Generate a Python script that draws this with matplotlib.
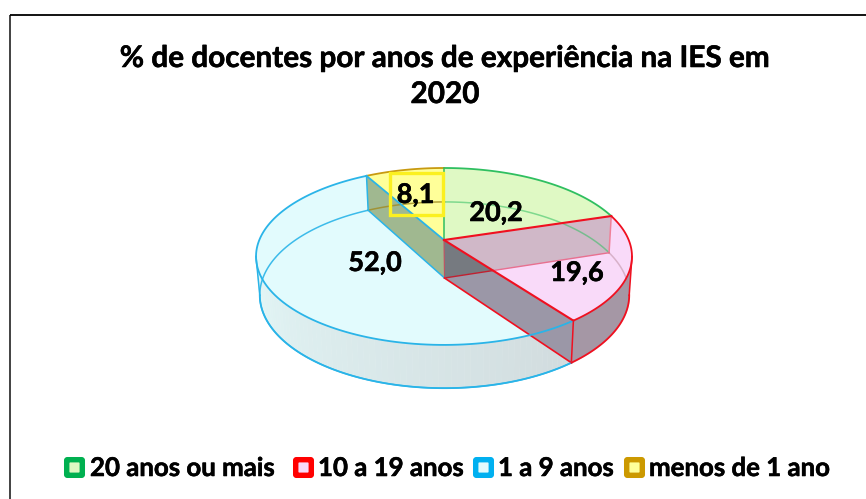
import numpy as np
import matplotlib
matplotlib.use("Agg")
import matplotlib.pyplot as plt
import matplotlib.patheffects as pe
from matplotlib.patches import Polygon, FancyBboxPatch, Rectangle

# ---- data ----
title_lines = ["% de docentes por anos de experiência na IES em", "2020"]
categories = ["20 anos ou mais", "10 a 19 anos", "1 a 9 anos", "menos de 1 ano"]
values = [20.2, 19.6, 52.0, 8.1]
value_labels = ["20,2", "19,6", "52,0", "8,1"]
top_colors = ["#DFF9C4", "#F9DAF9", "#E2FBFD", "#FFFF99"]
edge_colors = ["#2FBF60", "#F01020", "#2AB4E8", "#C89A10"]
legend_colors = ["#00B050", "#FF0000", "#00B0F0", "#CC9900"]
label_pos = [(496, 213), (577, 273), (375, 263), (415.5, 195)]
legend_box_x = [64, 293, 473, 624]
legend_text_x = [90, 318, 498, 649]

W, H = 866, 499
fig = plt.figure(figsize=(W / 100, H / 100), dpi=100, facecolor="white")
ax = fig.add_axes([0, 0, 1, 1])
ax.set_xlim(0, W)
ax.set_ylim(H, 0)
ax.axis("off")
plt.rcParams["font.family"] = ["Lato", "DejaVu Sans"]
thick = [pe.withStroke(linewidth=0.4, foreground="black")]

# perspective projection of the disc
def proj(theta, top=True):
    t = np.radians(theta)
    X, Y = np.sin(t), np.cos(t)
    if top:
        cx, cy, a, b, k = 444.0, 240.0, 184.7, 85.4, 0.186
    else:
        cx, cy, a, b, k = 444.5, 278.0, 181.6, 90.0, 0.183
    w = 1 + k * Y
    return np.column_stack([cx + a * X / w, cy - b * Y / w])

apex_top = np.array([444.0, 240.0])
apex_bot = np.array([444.5, 278.0])

cum = np.concatenate([[0], np.cumsum(values) / np.sum(values) * 360])
arc = lambda a0, a1, top=True: proj(np.linspace(a0, a1, 120), top)
P = lambda a, top=True: proj(np.array([a]), top)[0]
EXT_R, EXT_L = 100.7, 259.3  # silhouette angles of the disc

# frame (only top and left reach into the picture)
ax.plot([10, 10], [H, 15], color="#333333", lw=1.3, zorder=0, solid_capstyle="butt")
ax.plot([10, W], [15, 15], color="black", lw=1.3, zorder=0, solid_capstyle="butt")

# top faces
for i in range(4):
    pts = np.vstack([apex_top, arc(cum[i], cum[i + 1])])
    ax.add_patch(Polygon(pts, closed=True, fc=top_colors[i], ec="none", zorder=1))

# outer wall: blue, gradient
n = 70
angles = np.linspace(cum[2], EXT_L, n + 1)
for j in range(n):
    f = j / n
    col = (1 - f) * np.array([0.82, 0.86, 0.87]) + f * np.array([0.89, 0.97, 0.97])
    quad = np.vstack([arc(angles[j], angles[j + 1]), arc(angles[j + 1], angles[j], False)])
    ax.add_patch(Polygon(quad, closed=True, fc=col, ec=col, lw=0.3, zorder=2))

# outer wall: red part
wall = np.vstack([arc(EXT_R, cum[2]), arc(cum[2], EXT_R, False)])
ax.add_patch(Polygon(wall, closed=True, fc="#A597A5", ec="none", zorder=2))

# inner walls
pA, pAb = P(cum[1]), P(cum[1], False)
pB, pBb = P(cum[2]), P(cum[2], False)
pC, pCb = P(cum[3]), P(cum[3], False)
ax.add_patch(Polygon([apex_top, pC, pCb, apex_bot], closed=True, fc="#A0B890", ec="none", zorder=3))
ax.add_patch(Polygon([apex_top, pB, pBb, apex_bot], closed=True, fc="#9B97A7", ec="none", zorder=3))
ax.add_patch(Polygon([apex_top, pA, pAb, apex_bot], closed=True, fc="#D0B8C8", ec="none", zorder=4))

# overlap of the two red inner walls
d1 = pB - apex_top
d2 = pAb - apex_bot
s = np.linalg.solve(np.column_stack([d1, -d2]), apex_bot - apex_top)[0]
cross = apex_top + s * d1
ax.add_patch(Polygon([apex_top, cross, apex_bot], closed=True, fc="#767A80", ec="none", zorder=5))

# bottom rim seen through the top
rim_alpha = [0.55, 0.45, 0.9, 0.8]
rim_colors = ["#2FBF60", "#B08090", "#2AB4E8", "#A08A20"]
for i in range(4):
    xy = arc(cum[i], cum[i + 1], False)
    ax.plot(xy[:, 0], xy[:, 1], color=rim_colors[i], alpha=rim_alpha[i], lw=1.1, zorder=6)

# inner wall edges
ax.plot(*zip(pA, pAb), color="#F08098", lw=1.1, zorder=6)
ax.plot(*zip(pAb, cross), color="#E87090", lw=1.0, zorder=6)
ax.plot(*zip(cross, apex_bot), color="#C02030", lw=1.0, zorder=6)
ax.plot(*zip(pB, pBb), color="#F01020", lw=1.1, zorder=7)
ax.plot(*zip(pBb, apex_bot), color="#F01020", lw=1.2, zorder=7)
ax.plot(*zip(pC, pCb), color="#2AB4E8", lw=1.1, zorder=7)
ax.plot(*zip(pCb, apex_bot), color="#2AB4E8", lw=1.1, zorder=6)
ax.plot(*zip(apex_top, apex_bot), color="#C05060", lw=0.8, zorder=6)

# silhouette edges
ax.plot(*zip(P(EXT_L), P(EXT_L, False)), color="#2AB4E8", lw=1.1, zorder=7)
ax.plot(*zip(P(EXT_R), P(EXT_R, False)), color="#F01020", lw=1.1, zorder=7)

# top outlines
for i in [0, 3, 2, 1]:
    xy = arc(cum[i], cum[i + 1])
    ax.plot(xy[:, 0], xy[:, 1], color=edge_colors[i], lw=1.3, zorder=8)
ax.plot(*zip(apex_top, P(0)), color=edge_colors[0], lw=1.1, zorder=8)
ax.plot(*zip(apex_top, pC), color=edge_colors[2], lw=1.3, zorder=8)
ax.plot(*zip(apex_top, pB), color=edge_colors[1], lw=1.5, zorder=8)
ax.plot(*zip(apex_top, pA), color=edge_colors[1], lw=1.5, zorder=8)
xy = arc(cum[2], EXT_L, False)
ax.plot(xy[:, 0], xy[:, 1], color=edge_colors[2], lw=1.3, zorder=8)
xy = arc(EXT_R, cum[2], False)
ax.plot(xy[:, 0], xy[:, 1], color=edge_colors[1], lw=1.3, zorder=8)

# titles
ax.text(445, 58, title_lines[0], ha="center", va="center", fontsize=21.4, fontweight="bold",
        color="black", zorder=10, path_effects=thick)
ax.text(445, 94, title_lines[1], ha="center", va="center", fontsize=21.4, fontweight="bold",
        color="black", zorder=10, path_effects=thick)

# value labels
for (x, y), s_ in zip(label_pos, value_labels):
    ax.text(x, y, s_, ha="center", va="center", fontsize=19.5, fontweight="bold", zorder=10, path_effects=thick)

ax.add_patch(Rectangle((389.5, 172.5), 53, 42.5, fill=False, ec="#FBF020", lw=2.4, zorder=9))

# legend
for bx, tx, lab, c, f in zip(legend_box_x, legend_text_x, categories, legend_colors, top_colors):
    ax.add_patch(FancyBboxPatch((bx + 2.7, 459.7), 15.6, 15.6, boxstyle="round,pad=0,rounding_size=0.8",
                                fc=f, ec=c, lw=3.9, zorder=5))
    ax.text(tx, 468, lab, ha="left", va="center", fontsize=18.6, fontweight="bold", zorder=10, path_effects=thick)

fig.savefig("out.png", dpi=100)
